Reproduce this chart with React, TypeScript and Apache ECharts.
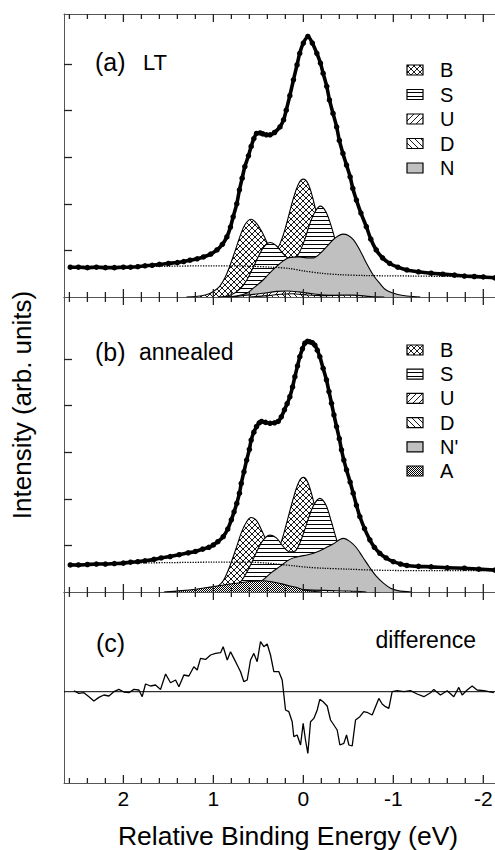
import React, { useEffect, useRef } from 'react';
import * as echarts from 'echarts';

// ---------------- data ----------------
const X_MIN = -2.13;
const X_MAX = 2.66;
const xMajorTicks = [2, 1, 0, -1, -2];
const xMinorTicks = [2.6, 2.4, 2.2, 1.8, 1.6, 1.4, 1.2, 0.8, 0.6, 0.4, 0.2, -0.2, -0.4, -0.6, -0.8, -1.2, -1.4, -1.6, -1.8];
const yTicksAB = [1, 2, 3, 4, 5];

const legendA = ['B', 'S', 'U', 'D', 'N'];
const legendB = ['B', 'S', 'U', 'D', "N'", 'A'];

const spectrumA = [
  [2.59, 0.64], [2.5, 0.64], [2.4, 0.63], [2.3, 0.64], [2.2, 0.63], [2.1, 0.63], [2.0, 0.64], [1.92, 0.64], [1.84, 0.65],
  [1.76, 0.67], [1.68, 0.68], [1.6, 0.7], [1.5, 0.72], [1.4, 0.74], [1.33, 0.76], [1.26, 0.79], [1.18, 0.82], [1.11, 0.86],
  [1.03, 0.92], [0.96, 1.01], [0.9, 1.13], [0.85, 1.29], [0.81, 1.5], [0.78, 1.72], [0.74, 2.0], [0.71, 2.3], [0.68, 2.55],
  [0.65, 2.8], [0.61, 3.03], [0.58, 3.23], [0.55, 3.4], [0.52, 3.51], [0.48, 3.52], [0.45, 3.5], [0.41, 3.48], [0.37, 3.48],
  [0.32, 3.53], [0.26, 3.65], [0.22, 3.8], [0.19, 4.01], [0.15, 4.32], [0.11, 4.66], [0.07, 4.98], [0.04, 5.23], [0.0, 5.45],
  [-0.05, 5.59], [-0.1, 5.45], [-0.15, 5.23], [-0.19, 5.02], [-0.22, 4.8], [-0.26, 4.52], [-0.29, 4.23], [-0.33, 3.94],
  [-0.37, 3.65], [-0.4, 3.36], [-0.44, 3.08], [-0.48, 2.83], [-0.52, 2.58], [-0.55, 2.33], [-0.59, 2.08], [-0.64, 1.8],
  [-0.7, 1.51], [-0.75, 1.24], [-0.81, 1.01], [-0.88, 0.84], [-0.96, 0.72], [-1.05, 0.64], [-1.15, 0.58], [-1.28, 0.54],
  [-1.42, 0.51], [-1.55, 0.49], [-1.68, 0.47], [-1.79, 0.45], [-1.9, 0.44], [-2.0, 0.43], [-2.13, 0.41],
];
const backgroundA = [
  [2.59, 0.64], [2.0, 0.65], [1.5, 0.66], [1.0, 0.67], [0.6, 0.66], [0.35, 0.64], [0.15, 0.61], [0.0, 0.56],
  [-0.2, 0.51], [-0.4, 0.48], [-0.7, 0.46], [-1.2, 0.45], [-2.13, 0.43],
];
const compA_B = [
  [1.3, 0.0], [1.2, 0.01], [1.08, 0.05], [1.0, 0.12], [0.93, 0.23], [0.87, 0.42], [0.82, 0.65], [0.76, 0.98], [0.71, 1.27],
  [0.65, 1.55], [0.58, 1.67], [0.52, 1.58], [0.46, 1.4], [0.4, 1.16], [0.35, 1.04], [0.3, 1.04], [0.24, 1.24], [0.19, 1.55],
  [0.11, 2.12], [0.05, 2.44], [0.0, 2.53], [-0.05, 2.44], [-0.1, 2.16], [-0.15, 1.76], [-0.2, 1.32], [-0.25, 0.91],
  [-0.3, 0.58], [-0.38, 0.24], [-0.46, 0.08], [-0.55, 0.02], [-0.65, 0.0],
];
const compA_S = [
  [0.95, 0.0], [0.8, 0.05], [0.7, 0.18], [0.63, 0.36], [0.56, 0.62], [0.5, 0.87], [0.44, 1.07], [0.37, 1.17], [0.3, 1.1],
  [0.22, 0.92], [0.15, 0.82], [0.08, 0.85], [0.0, 1.15], [-0.07, 1.56], [-0.13, 1.83], [-0.19, 1.95], [-0.25, 1.83],
  [-0.31, 1.52], [-0.38, 1.04], [-0.45, 0.6], [-0.52, 0.29], [-0.6, 0.1], [-0.7, 0.02], [-0.85, 0.0],
];
const compA_N = [
  [0.85, 0.0], [0.75, 0.02], [0.63, 0.08], [0.55, 0.2], [0.45, 0.36], [0.38, 0.5], [0.3, 0.65], [0.22, 0.78], [0.15, 0.85],
  [0.05, 0.86], [-0.04, 0.84], [-0.11, 0.84], [-0.19, 0.94], [-0.26, 1.08], [-0.35, 1.26], [-0.44, 1.35], [-0.5, 1.32],
  [-0.56, 1.22], [-0.63, 1.0], [-0.7, 0.73], [-0.78, 0.46], [-0.85, 0.29], [-0.92, 0.15], [-1.04, 0.06], [-1.15, 0.02], [-1.3, 0.0],
];
const compA_U = [
  [0.8, 0.0], [0.63, 0.04], [0.45, 0.08], [0.3, 0.12], [0.18, 0.13], [0.05, 0.11], [-0.1, 0.07], [-0.25, 0.04], [-0.45, 0.02], [-0.7, 0.0],
];
const compA_D = [
  [0.6, 0.0], [0.4, 0.03], [0.25, 0.06], [0.12, 0.07], [0.0, 0.05], [-0.2, 0.03], [-0.45, 0.04], [-0.55, 0.04], [-0.75, 0.01], [-0.9, 0.0],
];

const spectrumB = [
  [2.59, 0.58], [2.5, 0.58], [2.4, 0.59], [2.3, 0.6], [2.2, 0.6], [2.1, 0.61], [2.0, 0.62], [1.92, 0.64], [1.84, 0.65],
  [1.76, 0.67], [1.66, 0.7], [1.58, 0.73], [1.48, 0.76], [1.38, 0.8], [1.28, 0.84], [1.2, 0.87], [1.12, 0.92], [1.05, 0.96],
  [1.0, 1.01], [0.95, 1.08], [0.89, 1.19], [0.84, 1.35], [0.8, 1.55], [0.77, 1.72], [0.74, 1.9], [0.71, 2.12], [0.69, 2.33],
  [0.66, 2.58], [0.63, 2.83], [0.6, 3.06], [0.58, 3.26], [0.55, 3.43], [0.52, 3.55], [0.49, 3.63], [0.465, 3.66], [0.42, 3.64],
  [0.37, 3.62], [0.32, 3.63], [0.28, 3.66], [0.245, 3.76], [0.21, 3.91], [0.18, 4.04], [0.15, 4.19], [0.12, 4.4], [0.094, 4.62],
  [0.065, 4.85], [0.039, 5.05], [0.01, 5.22], [-0.017, 5.34], [-0.045, 5.38], [-0.072, 5.37], [-0.1, 5.35], [-0.128, 5.3],
  [-0.155, 5.19], [-0.183, 5.05], [-0.22, 4.8], [-0.257, 4.55], [-0.285, 4.3], [-0.313, 4.05], [-0.34, 3.8], [-0.369, 3.55],
  [-0.4, 3.29], [-0.424, 3.05], [-0.45, 2.83], [-0.48, 2.62], [-0.52, 2.36], [-0.554, 2.12], [-0.59, 1.86], [-0.628, 1.62],
  [-0.68, 1.36], [-0.739, 1.12], [-0.79, 0.96], [-0.85, 0.83], [-0.92, 0.73], [-1.0, 0.65], [-1.08, 0.6], [-1.15, 0.57],
  [-1.28, 0.55], [-1.42, 0.54], [-1.6, 0.52], [-1.79, 0.51], [-1.95, 0.49], [-2.13, 0.47],
];
const backgroundB = [
  [2.59, 0.6], [2.0, 0.62], [1.5, 0.63], [1.0, 0.64], [0.6, 0.64], [0.4, 0.62], [0.25, 0.59], [0.1, 0.56], [-0.05, 0.53],
  [-0.22, 0.51], [-0.5, 0.49], [-0.78, 0.47], [-1.15, 0.46], [-2.13, 0.46],
];
const compB_B = [
  [1.2, 0.0], [1.1, 0.01], [1.0, 0.06], [0.95, 0.12], [0.89, 0.24], [0.82, 0.54], [0.74, 0.98], [0.67, 1.36], [0.58, 1.6],
  [0.52, 1.53], [0.465, 1.33], [0.41, 1.1], [0.35, 0.91], [0.3, 0.88], [0.25, 1.05], [0.19, 1.45], [0.11, 2.02], [0.05, 2.36],
  [0.0, 2.46], [-0.05, 2.35], [-0.11, 1.97], [-0.17, 1.45], [-0.23, 0.94], [-0.3, 0.48], [-0.38, 0.18], [-0.45, 0.06],
  [-0.55, 0.01], [-0.65, 0.0],
];
const compB_S = [
  [0.95, 0.0], [0.8, 0.06], [0.7, 0.21], [0.6, 0.53], [0.5, 0.94], [0.44, 1.13], [0.37, 1.22], [0.3, 1.16], [0.22, 0.97],
  [0.15, 0.86], [0.08, 0.9], [0.0, 1.25], [-0.06, 1.6], [-0.12, 1.88], [-0.183, 2.01], [-0.25, 1.87], [-0.31, 1.52],
  [-0.37, 1.12], [-0.44, 0.69], [-0.52, 0.32], [-0.6, 0.12], [-0.7, 0.03], [-0.85, 0.0],
];
const compB_N = [
  [0.85, 0.0], [0.75, 0.03], [0.6, 0.11], [0.45, 0.26], [0.36, 0.41], [0.26, 0.55], [0.15, 0.7], [0.05, 0.76], [-0.05, 0.8],
  [-0.15, 0.86], [-0.25, 0.95], [-0.33, 1.03], [-0.4, 1.12], [-0.45, 1.15], [-0.52, 1.08], [-0.59, 0.95], [-0.66, 0.75],
  [-0.74, 0.52], [-0.81, 0.34], [-0.89, 0.19], [-0.97, 0.08], [-1.05, 0.03], [-1.2, 0.0],
];
const compB_A = [
  [1.55, 0.0], [1.35, 0.03], [1.2, 0.06], [1.02, 0.11], [0.85, 0.16], [0.7, 0.2], [0.55, 0.23], [0.45, 0.24], [0.35, 0.22],
  [0.25, 0.18], [0.15, 0.13], [0.08, 0.1], [0.0, 0.05], [-0.08, 0.02], [-0.2, 0.0],
];
const compB_U = [[0.5, 0.0], [0.3, 0.05], [0.15, 0.07], [0.0, 0.05], [-0.2, 0.02], [-0.4, 0.0]];
const compB_D = [[0.3, 0.0], [0.1, 0.03], [-0.1, 0.04], [-0.3, 0.03], [-0.5, 0.02], [-0.7, 0.0]];

const differenceC = [
  [2.549, 0.01], [2.494, -0.017], [2.439, -0.01], [2.383, -0.05], [2.328, -0.093], [2.272, -0.057], [2.217, -0.033],
  [2.161, -0.043], [2.106, 0.0], [2.05, 0.023], [1.994, -0.003], [1.939, -0.01], [1.883, 0.023], [1.828, 0.017],
  [1.791, -0.05], [1.754, 0.077], [1.698, 0.057], [1.643, 0.067], [1.587, 0.023], [1.531, 0.177], [1.476, 0.09],
  [1.42, 0.117], [1.383, 0.05], [1.328, 0.167], [1.272, 0.157], [1.217, 0.25], [1.18, 0.217], [1.143, 0.333],
  [1.087, 0.323], [1.031, 0.367], [0.976, 0.383], [0.92, 0.39], [0.891, 0.45], [0.846, 0.317], [0.809, 0.4],
  [0.772, 0.333], [0.735, 0.267], [0.698, 0.2], [0.661, 0.1], [0.624, 0.117], [0.587, 0.317], [0.55, 0.383],
  [0.513, 0.3], [0.476, 0.5], [0.439, 0.45], [0.402, 0.477], [0.365, 0.367], [0.328, 0.2], [0.272, 0.2], [0.235, 0.117],
  [0.198, -0.183], [0.161, -0.2], [0.124, -0.3], [0.106, -0.45], [0.069, -0.433], [0.031, -0.533], [0.002, -0.317],
  [-0.024, -0.483], [-0.05, -0.617], [-0.08, -0.3], [-0.117, -0.267], [-0.154, -0.183], [-0.183, -0.077], [-0.22, -0.1],
  [-0.265, -0.143], [-0.302, -0.283], [-0.339, -0.333], [-0.376, -0.383], [-0.406, -0.533], [-0.45, -0.517],
  [-0.48, -0.433], [-0.506, -0.533], [-0.543, -0.543], [-0.58, -0.283], [-0.628, -0.25], [-0.672, -0.2], [-0.717, -0.21],
  [-0.765, -0.233], [-0.802, -0.15], [-0.839, -0.067], [-0.876, -0.123], [-0.913, -0.15], [-0.95, -0.167], [-0.987, 0.0],
  [-1.043, 0.01], [-1.117, 0.0], [-1.191, 0.01], [-1.265, -0.023], [-1.339, -0.05], [-1.413, -0.01], [-1.45, 0.023],
  [-1.524, -0.033], [-1.598, 0.01], [-1.672, -0.05], [-1.728, 0.043], [-1.765, -0.033], [-1.82, 0.017], [-1.876, 0.057],
  [-1.931, 0.017], [-2.006, 0.01], [-2.117, -0.01],
];
const zeroLineC = [[X_MAX, 0], [X_MIN, 0]];

// ---------------- layout & styling ----------------
const GRID_A = { top: 14, height: 283 };
const GRID_B = { top: 297, height: 295 };
const GRID_C = { top: 592, height: 191 };
const PX_PER_UNIT = 46.6;
const Y_RANGES = [
  [0, GRID_A.height / PX_PER_UNIT],
  [0, GRID_B.height / PX_PER_UNIT],
  [-0.913, 0.997],
];
const FONT = '"Liberation Sans", Arial, Helvetica, sans-serif';
const AXIS = '#555';
const TICK = '#222';
const GREY = '#c0c0c0';

function makePattern(kind: string): any {
  const size = kind === 'horiz' ? 4 : kind === 'checker' ? 2 : 6;
  const c = document.createElement('canvas');
  c.width = size;
  c.height = size;
  const g = c.getContext('2d') as CanvasRenderingContext2D;
  g.fillStyle = '#fff';
  g.fillRect(0, 0, size, size);
  g.fillStyle = '#000';
  g.strokeStyle = '#000';
  g.lineWidth = 0.9;
  const line = (x1: number, y1: number, x2: number, y2: number) => {
    g.beginPath();
    g.moveTo(x1, y1);
    g.lineTo(x2, y2);
    g.stroke();
  };
  const fwd = () => {
    for (const k of [-size, 0, size]) line(-1 + k, size + 1, size + 1 + k, -1);
  };
  const back = () => {
    for (const k of [-size, 0, size]) line(-1 + k, -1, size + 1 + k, size + 1);
  };
  if (kind === 'horiz') g.fillRect(0, 0, size, 1);
  else if (kind === 'checker') {
    g.fillRect(0, 0, 1, 1);
    g.fillRect(1, 1, 1, 1);
  } else if (kind === 'cross') {
    fwd();
    back();
  } else if (kind === 'fwd') fwd();
  else if (kind === 'back') back();
  return { image: c.toDataURL(), repeat: 'repeat', imageWidth: size, imageHeight: size };
}

function fill(lab: string): any {
  if (lab === 'N' || lab === "N'") return GREY;
  const kinds: Record<string, string> = { B: 'cross', S: 'horiz', U: 'fwd', D: 'back', A: 'checker' };
  return makePattern(kinds[lab]);
}

// x tick marks on the top and bottom edge of a panel, as rect symbols placed through the axes
function tickSeries(idx: number) {
  const [yMin, yMax] = Y_RANGES[idx];
  const data: any[] = [];
  const add = (values: number[], len: number) => {
    values.forEach((v) => {
      data.push({ value: [v, yMax], symbolSize: [1.3, len], symbolOffset: [0, len / 2] });
      data.push({ value: [v, yMin], symbolSize: [1.3, len], symbolOffset: [0, -len / 2] });
    });
  };
  add(xMajorTicks, 8);
  add(xMinorTicks, 5);
  return {
    type: 'scatter',
    xAxisIndex: idx * 2,
    yAxisIndex: idx,
    data,
    symbol: 'rect',
    clip: false,
    silent: true,
    z: 40,
    zlevel: 0,
    itemStyle: { color: TICK, opacity: 1 },
  };
}

function buildOption() {
  const xAxisFor = (gridIndex: number, position: string, showLabel: boolean) => ({
    type: 'value',
    gridIndex,
    position,
    min: X_MIN,
    max: X_MAX,
    inverse: true,
    axisLine: { show: true, onZero: false, lineStyle: { color: AXIS, width: 1 } },
    axisTick: { show: false },
    axisLabel: { show: showLabel, customValues: xMajorTicks, fontSize: 21, color: '#000', margin: 5 },
    splitLine: { show: false },
  });
  const xAxes: any[] = [];
  for (let gi = 0; gi < 3; gi++) {
    xAxes.push(xAxisFor(gi, 'bottom', gi === 2)); // index gi*2
    xAxes.push(xAxisFor(gi, 'top', false));
  }

  const yAxisFor = (gridIndex: number, ticks: boolean) => ({
    type: 'value',
    gridIndex,
    min: Y_RANGES[gridIndex][0],
    max: Y_RANGES[gridIndex][1],
    axisLine: { show: true, onZero: false, lineStyle: { color: AXIS, width: 1 } },
    axisTick: ticks
      ? { show: true, inside: true, length: 8, customValues: yTicksAB, lineStyle: { color: TICK, width: 1.3 } }
      : { show: false },
    axisLabel: { show: false },
    splitLine: { show: false },
  });

  const area = (data: number[][], idx: number, lab: string, z: number) => ({
    type: 'line',
    xAxisIndex: idx * 2,
    yAxisIndex: idx,
    data,
    smooth: 0.35,
    symbol: 'none',
    silent: true,
    z,
    lineStyle: { color: '#000', width: 1.1 },
    areaStyle: { color: fill(lab), opacity: 1, origin: 'start' },
  });

  const spectrum = (data: number[][], idx: number) => ({
    type: 'line',
    xAxisIndex: idx * 2,
    yAxisIndex: idx,
    data,
    smooth: 0.3,
    symbol: 'circle',
    symbolSize: 5.5,
    showSymbol: true,
    showAllSymbol: true,
    silent: true,
    z: 20,
    itemStyle: { color: '#000', borderWidth: 0 },
    lineStyle: { color: '#000', width: 3.6 },
  });

  const dotted = (data: number[][], idx: number) => ({
    type: 'line',
    xAxisIndex: idx * 2,
    yAxisIndex: idx,
    data,
    smooth: 0.3,
    symbol: 'none',
    silent: true,
    z: 15,
    lineStyle: { color: '#000', width: 1.3, type: 'dotted' },
  });

  return {
    animation: false,
    backgroundColor: '#fff',
    textStyle: { fontFamily: FONT },
    grid: [
      { left: 64, right: 0, top: GRID_A.top, height: GRID_A.height, outerBoundsMode: 'none' },
      { left: 64, right: 0, top: GRID_B.top, height: GRID_B.height, outerBoundsMode: 'none' },
      { left: 64, right: 0, top: GRID_C.top, height: GRID_C.height, outerBoundsMode: 'none' },
    ],
    xAxis: xAxes,
    yAxis: [yAxisFor(0, true), yAxisFor(1, true), yAxisFor(2, false)],
    series: [
      area(compA_B, 0, 'B', 2),
      area(compA_S, 0, 'S', 3),
      area(compA_N, 0, 'N', 4),
      area(compA_U, 0, 'U', 5),
      area(compA_D, 0, 'D', 6),
      dotted(backgroundA, 0),
      spectrum(spectrumA, 0),

      area(compB_B, 1, 'B', 2),
      area(compB_S, 1, 'S', 3),
      area(compB_N, 1, "N'", 4),
      area(compB_U, 1, 'U', 5),
      area(compB_D, 1, 'D', 6),
      area(compB_A, 1, 'A', 7),
      dotted(backgroundB, 1),
      spectrum(spectrumB, 1),

      {
        type: 'line',
        xAxisIndex: 4,
        yAxisIndex: 2,
        data: zeroLineC,
        symbol: 'none',
        silent: true,
        z: 5,
        lineStyle: { color: '#000', width: 1 },
      },
      {
        type: 'line',
        xAxisIndex: 4,
        yAxisIndex: 2,
        data: differenceC,
        symbol: 'none',
        silent: true,
        z: 6,
        lineStyle: { color: '#000', width: 1.3 },
      },

      tickSeries(0),
      tickSeries(1),
      tickSeries(2),
    ],
  };
}

function buildGraphics() {
  const graphics: any[] = [];
  const legend = (labels: string[], y0: number, step: number) => {
    labels.forEach((lab, i) => {
      const cy = y0 + i * step;
      graphics.push({
        type: 'rect',
        shape: { x: 407, y: cy - 5, width: 16, height: 10 },
        style: { fill: fill(lab), stroke: '#000', lineWidth: 1.2 },
        silent: true,
      });
      graphics.push({
        type: 'text',
        x: 440,
        y: cy,
        style: { text: lab, fontSize: 20, fontFamily: FONT, fill: '#000', verticalAlign: 'middle', align: 'left' },
        silent: true,
      });
    });
  };
  legend(legendA, 70, 24.5);
  legend(legendB, 350, 24.2);

  const label = (text: string, x: number, y: number, size: number, align = 'left') => {
    graphics.push({
      type: 'text',
      x,
      y,
      style: { text, fontSize: size, fontFamily: FONT, fill: '#000', verticalAlign: 'middle', align },
      silent: true,
    });
  };
  label('(a)', 95, 62, 25);
  label('LT', 143, 62, 22);
  label('(b)', 95, 352, 25);
  label('annealed', 139, 352, 23);
  label('(c)', 96, 643, 25);
  label('difference', 476, 640, 23, 'right');
  label('Relative Binding Energy (eV)', 288, 836, 26.5, 'center');
  graphics.push({
    type: 'text',
    x: 22,
    y: 405,
    rotation: Math.PI / 2,
    style: {
      text: 'Intensity (arb. units)',
      fontSize: 26,
      fontFamily: FONT,
      fill: '#000',
      verticalAlign: 'middle',
      align: 'center',
    },
    silent: true,
  });
  return graphics;
}

export default function App() {
  const ref = useRef<HTMLDivElement>(null);
  useEffect(() => {
    if (!ref.current) return;
    const chart = echarts.init(ref.current, null, { renderer: 'svg' });
    const option: any = buildOption();
    option.graphic = buildGraphics();
    chart.setOption(option);
    return () => chart.dispose();
  }, []);
  return (
    <div
      ref={ref}
      style={{ position: 'fixed', left: 0, top: 0, width: 495, height: 850, background: '#fff' }}
    />
  );
}
